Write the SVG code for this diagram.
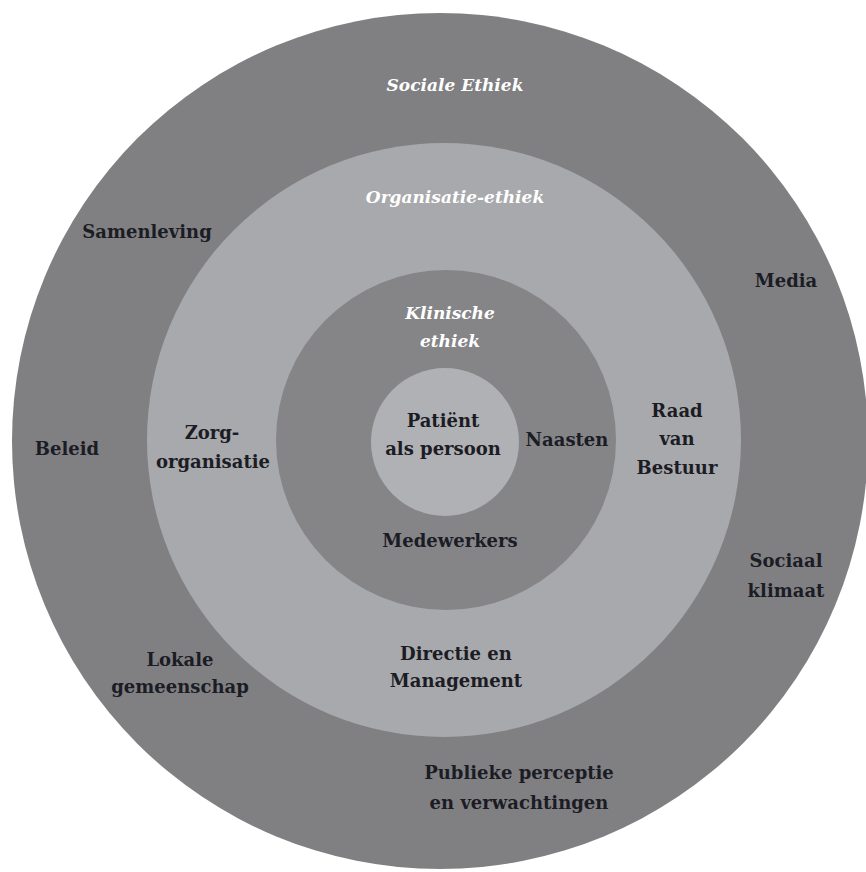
<svg xmlns="http://www.w3.org/2000/svg" width="866" height="872" viewBox="0 0 866 872">
<style>
.t{font-family:"DejaVu Serif","Liberation Serif",serif;font-weight:bold;font-size:18px;fill:#1c1c24;text-anchor:middle}
.w{font-family:"DejaVu Serif","Liberation Serif",serif;font-weight:bold;font-style:italic;font-size:17px;fill:#ffffff;text-anchor:middle}
</style>
<rect width="866" height="872" fill="#ffffff"/>
<g id="sociale-ethiek">
<circle cx="440" cy="441" r="428" fill="#808083"/>
<text class="w" x="455" y="91">Sociale Ethiek</text>
<text class="t" x="147" y="238">Samenleving</text>
<text class="t" x="786" y="287">Media</text>
<text class="t" x="67" y="455">Beleid</text>
<text class="t" x="786" y="567">Sociaal</text>
<text class="t" x="786" y="597">klimaat</text>
<text class="t" x="180" y="666">Lokale</text>
<text class="t" x="180" y="693">gemeenschap</text>
<text class="t" x="519" y="779">Publieke perceptie</text>
<text class="t" x="519" y="809">en verwachtingen</text>
</g>
<g id="organisatie-ethiek">
<circle cx="444" cy="440" r="297" fill="#a8a9ac"/>
<text class="w" x="455" y="203">Organisatie-ethiek</text>
<text class="t" x="212" y="439">Zorg-</text>
<text class="t" x="213" y="468">organisatie</text>
<text class="t" x="677" y="417">Raad</text>
<text class="t" x="677" y="445">van</text>
<text class="t" x="677" y="474">Bestuur</text>
<text class="t" x="456" y="660">Directie en</text>
<text class="t" x="456" y="687">Management</text>
</g>
<g id="klinische-ethiek">
<circle cx="446" cy="440" r="170" fill="#858588"/>
<text class="w" x="450" y="319">Klinische</text>
<text class="w" x="450" y="347">ethiek</text>
<text class="t" x="567" y="446">Naasten</text>
<text class="t" x="450" y="547">Medewerkers</text>
</g>
<g id="patient">
<circle cx="445" cy="442" r="74" fill="#b0b1b4"/>
<text class="t" x="443" y="427">Patiënt</text>
<text class="t" x="443" y="455">als persoon</text>
</g>
<g id="connectors"/>
</svg>
